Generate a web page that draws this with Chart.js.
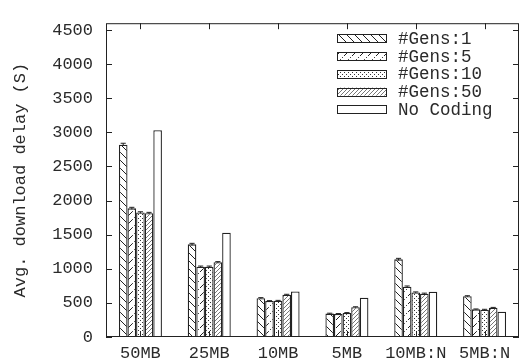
<!DOCTYPE html>
<html>
<head>
<title>Avg. download delay</title>
<script src="https://cdn.jsdelivr.net/npm/chart.js"></script>
<style>body{margin:0;background:#fff}</style>
</head>
<body>
<canvas id="myChart" width="521" height="362"></canvas>
<script>
// data
const categories = ['50MB', '25MB', '10MB', '5MB', '10MB:N', '5MB:N'];
const seriesNames = ['#Gens:1', '#Gens:5', '#Gens:10', '#Gens:50', 'No Coding'];
const gens1 = [2820, 1358, 569, 343, 1138, 597];
const gens5 = [1886, 1030, 527, 338, 738, 405];
const gens10 = [1824, 1030, 531, 352, 653, 400];
const gens50 = [1815, 1095, 620, 437, 635, 428];
const noCoding = [3032, 1528, 668, 576, 663, 371];
const err1 = [20, 15, 8, 6, 15, 8];
const err5 = [15, 10, 6, 6, 10, 6];
const err10 = [12, 10, 6, 6, 8, 6];
const err50 = [12, 10, 6, 6, 8, 6];
const errNo = [0, 0, 0, 0, 0, 0];
const yTicks = [0, 500, 1000, 1500, 2000, 2500, 3000, 3500, 4000, 4500];

const canvas = document.getElementById('myChart');
const mainCtx = canvas.getContext('2d');

// hatch patterns like gnuplot fill patterns
function makePattern(kind) {
  const c = document.createElement('canvas');
  const size = kind === 'dots' || kind === 'fine' ? 4 : 8;
  c.width = size; c.height = size;
  const g = c.getContext('2d');
  g.fillStyle = '#fff';
  g.fillRect(0, 0, size, size);
  g.strokeStyle = '#222';
  g.lineWidth = 1;
  if (kind === 'back') {
    g.beginPath();
    g.moveTo(-1, -1); g.lineTo(size + 1, size + 1);
    g.moveTo(-1, size - 1); g.lineTo(1, size + 1);
    g.moveTo(size - 1, -1); g.lineTo(size + 1, 1);
    g.stroke();
  } else if (kind === 'fwdDash') {
    g.beginPath();
    g.moveTo(0, size); g.lineTo(size * 0.6, size * 0.4);
    g.stroke();
    g.fillStyle = '#444';
    g.fillRect(6, 1, 1, 1);
  } else if (kind === 'dots') {
    g.fillStyle = '#333';
    g.fillRect(0, 0, 1, 1);
    g.fillRect(2, 2, 1, 1);
  } else if (kind === 'fine') {
    g.strokeStyle = '#777';
    g.beginPath();
    g.moveTo(0, size); g.lineTo(size, 0);
    g.moveTo(-1, 1); g.lineTo(1, -1);
    g.moveTo(size - 1, size + 1); g.lineTo(size + 1, size - 1);
    g.stroke();
  }
  return mainCtx.createPattern(c, 'repeat');
}

const fills = [makePattern('back'), makePattern('fwdDash'), makePattern('dots'), makePattern('fine'), '#fff'];
const values = [gens1, gens5, gens10, gens50, noCoding];
const errors = [err1, err5, err10, err50, errNo];

Chart.defaults.font.family = "'Liberation Mono', 'DejaVu Sans Mono', monospace";
Chart.defaults.font.size = 17;
Chart.defaults.color = '#2a2a2a';

// error bars, inward ticks, frame and legend drawn on top
const extras = {
  id: 'extras',
  afterDatasetsDraw(chart) {
    const ctx = chart.ctx;
    const x = chart.scales.x, y = chart.scales.y;
    const a = chart.chartArea;
    ctx.save();
    ctx.strokeStyle = '#222';
    ctx.lineWidth = 1;
    chart.data.datasets.forEach((ds, i) => {
      const meta = chart.getDatasetMeta(i);
      meta.data.forEach((bar, j) => {
        const e = ds.errors[j];
        if (!e) return;
        const hi = y.getPixelForValue(ds.data[j] + e);
        const lo = y.getPixelForValue(ds.data[j] - e);
        const hw = bar.width * 0.3;
        ctx.beginPath();
        ctx.moveTo(bar.x, hi); ctx.lineTo(bar.x, lo);
        ctx.moveTo(bar.x - hw, hi); ctx.lineTo(bar.x + hw, hi);
        ctx.stroke();
      });
    });
    // frame
    ctx.strokeRect(a.left + 0.5, a.top + 0.5, a.right - a.left - 1, a.bottom - a.top - 1);
    // inward ticks
    ctx.beginPath();
    yTicks.forEach(v => {
      const py = Math.round(y.getPixelForValue(v)) + 0.5;
      ctx.moveTo(a.left, py); ctx.lineTo(a.left + 6, py);
      ctx.moveTo(a.right, py); ctx.lineTo(a.right - 6, py);
    });
    categories.forEach((c, i) => {
      const px = Math.round(x.getPixelForValue(i)) + 0.5;
      ctx.moveTo(px, a.top); ctx.lineTo(px, a.top + 6);
      ctx.moveTo(px, a.bottom); ctx.lineTo(px, a.bottom - 6);
    });
    ctx.stroke();
    // legend
    const lx = a.right - 182;
    ctx.font = "17.5px 'Liberation Mono', monospace";
    ctx.textBaseline = 'middle';
    chart.data.datasets.forEach((ds, i) => {
      const cy = a.top + 15 + i * 17.8;
      ctx.fillStyle = ds.backgroundColor;
      ctx.fillRect(lx, cy - 4, 49, 8);
      ctx.strokeRect(lx + 0.5, Math.round(cy - 4) + 0.5, 49, 8);
      ctx.fillStyle = '#2a2a2a';
      ctx.fillText(ds.label, lx + 61, cy + 1);
    });
    ctx.restore();
  }
};

const data = {
  labels: categories,
  datasets: seriesNames.map((name, i) => ({
    label: name,
    data: values[i],
    errors: errors[i],
    backgroundColor: fills[i],
    borderColor: '#222',
    borderWidth: 1.3,
    categoryPercentage: 0.625,
    barPercentage: 1.0
  }))
};

const config = {
  type: 'bar',
  data: data,
  options: {
    responsive: false,
    animation: false,
    devicePixelRatio: 1,
    layout: { padding: { top: 12, right: 2, left: 0, bottom: 0 } },
    plugins: { legend: { display: false }, tooltip: { enabled: false } },
    scales: {
      x: {
        grid: { display: false, drawTicks: false },
        border: { display: false },
        ticks: { padding: 6, maxRotation: 0, autoSkip: false },
        afterFit(s) { s.height = 25; }
      },
      y: {
        min: 0,
        max: 4600,
        grid: { display: false, drawTicks: false },
        border: { display: false },
        ticks: { padding: 13, callback: v => String(v) },
        afterBuildTicks(s) { s.ticks = yTicks.map(v => ({ value: v })); },
        afterFit(s) { s.width = 106; },
        title: { display: true, text: 'Avg. download delay (S)', padding: { top: 10, bottom: 0 } }
      }
    }
  },
  plugins: [extras]
};

const myChart = new Chart(canvas, config);
</script>
</body>
</html>
